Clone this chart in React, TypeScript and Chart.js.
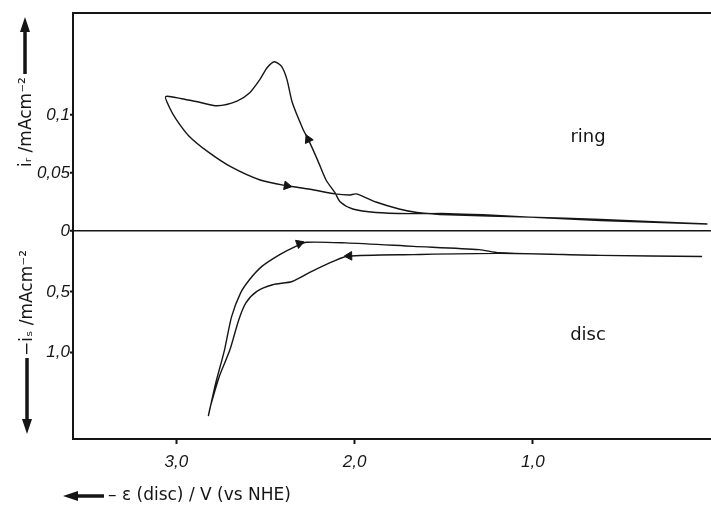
import React, { useEffect, useRef } from 'react';
import { Chart, registerables } from 'chart.js';

Chart.register(...registerables);

// Ring current loop (potential in V, current in mA/cm²)
const ringX = [0.02, 0.16, 0.62, 1.02, 1.28, 1.47, 1.69, 1.88, 2.01, 2.08, 2.11, 2.16, 2.21, 2.26, 2.29, 2.35, 2.38, 2.41, 2.45, 2.49, 2.53, 2.59, 2.66, 2.77, 2.87, 2.97, 3.06, 3.04, 3.0, 2.93, 2.82, 2.69, 2.53, 2.38, 2.25, 2.11, 2.03, 1.99, 1.88, 1.75, 1.65, 1.47, 1.02, 0.62, 0.02];
const ringY = [0.006, 0.007, 0.01, 0.012, 0.014, 0.015, 0.015, 0.016, 0.019, 0.025, 0.033, 0.044, 0.062, 0.079, 0.088, 0.111, 0.131, 0.142, 0.146, 0.141, 0.131, 0.119, 0.112, 0.108, 0.111, 0.114, 0.116, 0.107, 0.096, 0.082, 0.068, 0.055, 0.044, 0.039, 0.036, 0.032, 0.031, 0.032, 0.025, 0.019, 0.016, 0.014, 0.012, 0.009, 0.006];

// Disc current loop (−i_s, mA/cm², plotted downward)
const discX = [0.05, 0.62, 1.19, 1.67, 2.04, 2.12, 2.24, 2.35, 2.46, 2.55, 2.61, 2.65, 2.7, 2.76, 2.81, 2.82, 2.78, 2.73, 2.69, 2.64, 2.59, 2.52, 2.42, 2.33, 2.27, 2.05, 1.67, 1.3, 1.19, 0.62, 0.05];
const discY = [0.21, 0.2, 0.184, 0.194, 0.208, 0.25, 0.332, 0.415, 0.442, 0.498, 0.591, 0.731, 0.979, 1.2, 1.448, 1.517, 1.255, 0.979, 0.704, 0.511, 0.401, 0.291, 0.194, 0.126, 0.093, 0.098, 0.126, 0.153, 0.178, 0.2, 0.21];

// Direction arrows on the curves
const ringArrowX = [2.38, 2.26];
const ringArrowY = [0.039, 0.079];
const ringArrowRot = [100, 335];
const discArrowX = [2.31, 2.03];
const discArrowY = [0.103, 0.205];
const discArrowRot = [70, 268];

// Ticks
const xTicks = [3, 2, 1];
const xTickLabels = ['3,0', '2,0', '1,0'];
const ringTicks = [0, 0.05, 0.1];
const ringTickLabels = ['0', '0,05', '0,1'];
const discTicks = [0.5, 1.0];
const discTickLabels = ['0,5', '1,0'];

// Titles and curve labels
const ringTitle = 'iᵣ /mAcm⁻²';
const discTitle = '−iₛ /mAcm⁻²';
const xTitle = '– ε (disc) / V (vs NHE)';
const curveLabels = ['ring', 'disc'];
const curveLabelX = [0.69, 0.69];
const curveLabelY = [0.081, 0.855];

const INK = '#151515';
const tickFont = { family: '"Liberation Sans", Arial, sans-serif', size: 17, style: 'italic' as const };
const titleFont = { family: '"DejaVu Sans", sans-serif', size: 17 };
const titleCss = '17px "DejaVu Sans", sans-serif';

function labelFor(values: number[], labels: string[], v: number) {
  const i = values.findIndex((t) => Math.abs(t - v) < 1e-9);
  return i >= 0 ? labels[i] : '';
}

function drawArrow(ctx: CanvasRenderingContext2D, x1: number, y1: number, x2: number, y2: number) {
  const ang = Math.atan2(y2 - y1, x2 - x1);
  const headLen = 15;
  const headW = 5;
  const bx = x2 - headLen * Math.cos(ang);
  const by = y2 - headLen * Math.sin(ang);
  ctx.beginPath();
  ctx.lineWidth = 3.5;
  ctx.moveTo(x1, y1);
  ctx.lineTo(bx, by);
  ctx.stroke();
  ctx.beginPath();
  ctx.moveTo(x2, y2);
  ctx.lineTo(bx + headW * Math.sin(ang), by - headW * Math.cos(ang));
  ctx.lineTo(bx - headW * Math.sin(ang), by + headW * Math.cos(ang));
  ctx.closePath();
  ctx.fill();
}

const decorPlugin = {
  id: 'decor',
  afterDraw(chart: any) {
    const { ctx, chartArea, scales } = chart;
    ctx.save();
    ctx.strokeStyle = INK;
    ctx.fillStyle = INK;
    // top frame line
    ctx.lineWidth = 2;
    ctx.beginPath();
    ctx.moveTo(chartArea.left, chartArea.top);
    ctx.lineTo(chartArea.right, chartArea.top);
    ctx.stroke();
    // axis-direction arrows
    drawArrow(ctx, 25, 74, 25, 17);
    drawArrow(ctx, 27, 358, 27, 434);
    drawArrow(ctx, 104, 496, 63, 496);
    // disc axis title (rotated, reading upward)
    ctx.font = titleCss;
    ctx.textBaseline = 'middle';
    ctx.save();
    ctx.translate(28, 356);
    ctx.rotate(-Math.PI / 2);
    ctx.textAlign = 'left';
    ctx.fillText(discTitle, 0, 0);
    ctx.restore();
    // x axis title
    ctx.textAlign = 'left';
    ctx.fillText(xTitle, 108, 496);
    // curve labels
    ctx.font = '18px "DejaVu Sans", sans-serif';
    ctx.textAlign = 'center';
    ctx.fillText(curveLabels[0], scales.x.getPixelForValue(curveLabelX[0]), scales.yr.getPixelForValue(curveLabelY[0]));
    ctx.fillText(curveLabels[1], scales.x.getPixelForValue(curveLabelX[1]), scales.yd.getPixelForValue(curveLabelY[1]));
    ctx.restore();
  },
};

function zeroPad(s: any) {
  s.paddingLeft = 0;
  s.paddingRight = 0;
  s.paddingTop = 0;
  s.paddingBottom = 0;
}

export default function App() {
  const ref = useRef<HTMLCanvasElement | null>(null);

  useEffect(() => {
    document.body.style.margin = '0';
    const canvas = ref.current;
    if (!canvas) return;
    const chart = new Chart(canvas, {
      type: 'scatter',
      data: {
        datasets: [
          {
            label: 'ring',
            data: ringX.map((x, i) => ({ x, y: ringY[i] })),
            yAxisID: 'yr',
            showLine: true,
            borderColor: INK,
            borderWidth: 1.4,
            pointRadius: 0,
            tension: 0.25,
          },
          {
            label: 'disc',
            data: discX.map((x, i) => ({ x, y: discY[i] })),
            yAxisID: 'yd',
            showLine: true,
            borderColor: INK,
            borderWidth: 1.4,
            pointRadius: 0,
            tension: 0.25,
          },
          {
            label: 'ring arrows',
            data: ringArrowX.map((x, i) => ({ x, y: ringArrowY[i] })),
            yAxisID: 'yr',
            showLine: false,
            pointStyle: 'triangle',
            pointRadius: 5,
            pointRotation: ringArrowRot,
            backgroundColor: INK,
            borderColor: INK,
          },
          {
            label: 'disc arrows',
            data: discArrowX.map((x, i) => ({ x, y: discArrowY[i] })),
            yAxisID: 'yd',
            showLine: false,
            pointStyle: 'triangle',
            pointRadius: 5,
            pointRotation: discArrowRot,
            backgroundColor: INK,
            borderColor: INK,
          },
        ] as any,
      },
      options: {
        animation: false,
        responsive: false,
        layout: { autoPadding: false, padding: { top: 13, right: 0, left: 0, bottom: 0 } },
        plugins: { legend: { display: false }, tooltip: { enabled: false } },
        scales: {
          x: {
            type: 'linear',
            reverse: true,
            min: 0,
            max: 3.58,
            afterBuildTicks: (s: any) => {
              s.ticks = xTicks.map((v) => ({ value: v }));
            },
            afterFit: (s: any) => {
              s.height = 69;
              zeroPad(s);
            },
            ticks: {
              callback: (v: any) => labelFor(xTicks, xTickLabels, Number(v)),
              font: tickFont,
              color: INK,
              padding: 8,
              maxRotation: 0,
            },
            grid: { drawOnChartArea: false, tickLength: 5, color: INK, tickWidth: 2 },
            border: { color: INK, width: 2 },
            title: { display: false, text: xTitle },
          },
          yd: {
            type: 'linear',
            position: 'left',
            stack: 'y',
            stackWeight: 208,
            reverse: true,
            min: 0,
            max: 1.71,
            afterBuildTicks: (s: any) => {
              s.ticks = discTicks.map((v) => ({ value: v }));
            },
            afterFit: (s: any) => {
              s.width = 73;
              zeroPad(s);
            },
            ticks: {
              callback: (v: any) => labelFor(discTicks, discTickLabels, Number(v)),
              font: tickFont,
              color: INK,
              padding: 0,
            },
            grid: { drawOnChartArea: false, tickLength: 3, color: INK, tickWidth: 2 },
            border: { color: INK, width: 2 },
            title: { display: false, text: discTitle },
          },
          yr: {
            type: 'linear',
            position: 'left',
            stack: 'y',
            stackWeight: 218,
            min: 0,
            max: 0.188,
            afterBuildTicks: (s: any) => {
              s.ticks = ringTicks.map((v) => ({ value: v }));
            },
            afterFit: (s: any) => {
              s.width = 73;
              zeroPad(s);
            },
            ticks: {
              callback: (v: any) => labelFor(ringTicks, ringTickLabels, Number(v)),
              font: tickFont,
              color: INK,
              padding: 0,
            },
            grid: {
              drawOnChartArea: true,
              tickLength: 3,
              tickWidth: 2,
              tickColor: INK,
              lineWidth: 1.6,
              color: (c: any) => (c.tick && c.tick.value === 0 ? INK : 'rgba(0,0,0,0)'),
            },
            border: { color: INK, width: 2 },
            title: {
              display: true,
              text: ringTitle,
              align: 'center',
              font: titleFont,
              color: INK,
              padding: { top: 16, bottom: 0 },
            },
          },
        } as any,
      },
      plugins: [decorPlugin],
    });
    return () => chart.destroy();
  }, []);

  return (
    <div style={{ width: 711, height: 508, background: '#fff' }}>
      <canvas ref={ref} width={711} height={508} style={{ display: 'block' }} />
    </div>
  );
}
